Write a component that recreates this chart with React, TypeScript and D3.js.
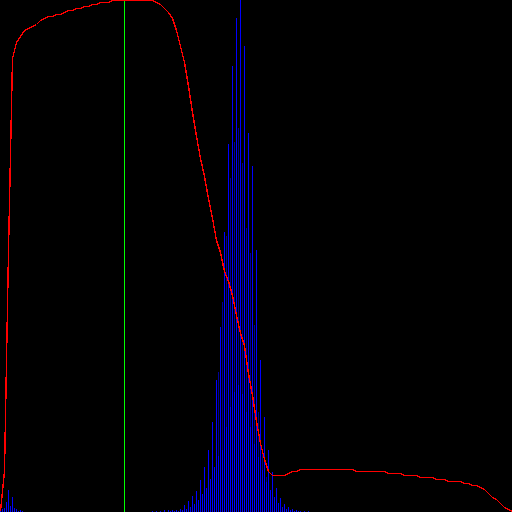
/**
 * Levels Histogram
 * D3.js histogram with a tone curve and a marker line on black
 */

import { useEffect, useRef } from 'react';
import * as d3 from 'd3';

// tone curve, one value every 2 bins (level 0-255)
const curveLevels = [
  0, 20, 130, 226, 234, 237, 240, 241,
  242, 243, 245, 246, 247, 247, 248, 248,
  249, 250, 250, 251, 251, 252, 252, 253,
  253, 254, 254, 254, 255, 255, 255, 255,
  255, 255, 255, 255, 255, 255, 255, 254,
  253, 251, 249, 246, 240, 232, 224, 212,
  199, 187, 176, 167, 156, 146, 135, 129,
  120, 115, 108, 98, 89, 83, 69, 58,
  45, 34, 26, 20, 18, 18, 18, 18,
  19, 20, 20, 21, 21, 21, 21, 21,
  21, 21, 21, 21, 21, 21, 21, 21,
  21, 20, 20, 20, 20, 20, 20, 20,
  20, 19, 19, 19, 19, 18, 18, 18,
  18, 17, 17, 17, 17, 16, 16, 16,
  15, 15, 15, 15, 14, 14, 13, 13,
  12, 11, 9, 7, 6, 4, 2, 1,
];

// shadow cluster, bins 0..11
const shadowCounts = [2, 3, 4, 10, 22, 6, 15, 4, 3, 1, 2, 1];

// main cluster, starting at bin pair 37 (bin 74)
const peakStart = 37;
const evenCounts = [
  0, 1, 1, 1, 2, 2, 2, 2, 3, 7, 11, 16, 21, 32, 45, 62, 90, 132, 185, 280,
  368, 446, 494, 512, 466, 379, 346, 262, 152, 95, 62, 40, 24, 14, 8, 5, 3, 2, 1, 1, 1,
];
const oddCore = [
  0, 0, 0, 0, 0, 1, 1, 1, 2, 3, 5, 8, 12, 18, 24, 33, 45, 56, 62, 85,
  105, 120, 127, 118, 100, 85, 68, 55, 42, 30, 22, 15, 9, 5, 3, 2, 1, 1, 0, 0, 0,
];
const oddHalo = [
  0, 0, 0, 0, 0, 0, 0, 0, 0, 0, 0, 0, 0, 0, 0, 0, 0, 140, 210, 276,
  334, 370, 384, 349, 284, 259, 187, 100, 60, 35, 0, 0, 0, 0, 0, 0, 0, 0, 0, 0, 0,
];

const markerBin = 62;

export default function App() {
  const svgRef = useRef<SVGSVGElement>(null);
  const width = 512;
  const height = 512;

  useEffect(() => {
    if (!svgRef.current) return;
    d3.select(svgRef.current).selectAll('*').remove();

    const svg = d3.select(svgRef.current)
      .attr('width', width)
      .attr('height', height)
      .style('display', 'block')
      .style('background', '#000');

    const xScale = d3.scaleLinear().domain([0, 256]).range([0, width]);
    const yCount = d3.scaleLinear().domain([0, 512]).range([height, 0]);
    const yLevel = d3.scaleLinear().domain([0, 255]).range([height - 0.5, 0.5]);

    const bars: Array<{ bin: number; count: number; color: string }> = [];
    shadowCounts.forEach((c, i) => bars.push({ bin: i, count: c, color: '#0000ff' }));
    oddHalo.forEach((c, i) => bars.push({ bin: (peakStart + i) * 2 + 1, count: c, color: '#00009a' }));
    evenCounts.forEach((c, i) => bars.push({ bin: (peakStart + i) * 2, count: c, color: '#0000ff' }));
    oddCore.forEach((c, i) => bars.push({ bin: (peakStart + i) * 2 + 1, count: c, color: '#0000ff' }));

    const g = svg.append('g').attr('shape-rendering', 'crispEdges');

    // Histogram bins
    g.selectAll('.bin')
      .data(bars.filter(d => d.count > 0))
      .enter()
      .append('line')
      .attr('class', 'bin')
      .attr('x1', d => xScale(d.bin) + 0.5)
      .attr('x2', d => xScale(d.bin) + 0.5)
      .attr('y1', height)
      .attr('y2', d => yCount(d.count))
      .attr('stroke', d => d.color)
      .attr('stroke-width', 1);

    // Marker
    g.append('line')
      .attr('x1', xScale(markerBin) + 0.5)
      .attr('x2', xScale(markerBin) + 0.5)
      .attr('y1', 0)
      .attr('y2', height)
      .attr('stroke', '#00ff00')
      .attr('stroke-width', 1);

    // Tone curve
    const curveX = d3.scaleLinear().domain([0, curveLevels.length]).range([0, width]);
    const pts = curveLevels.map((v, i) => [i, v] as [number, number]);
    pts.push([curveLevels.length, 0]);
    const line = d3.line<[number, number]>()
      .x(d => curveX(d[0]) + 0.5)
      .y(d => Math.round(yLevel(d[1]) - 0.5) + 0.5)
      .curve(d3.curveLinear);

    svg.append('path')
      .attr('d', line(pts) || '')
      .attr('fill', 'none')
      .attr('stroke', '#ff0000')
      .attr('stroke-width', 1.4)
      .attr('shape-rendering', 'crispEdges');
  }, []);

  return (
    <div style={{ position: 'fixed', left: 0, top: 0, width, height, background: '#000' }}>
      <svg ref={svgRef} />
    </div>
  );
}
